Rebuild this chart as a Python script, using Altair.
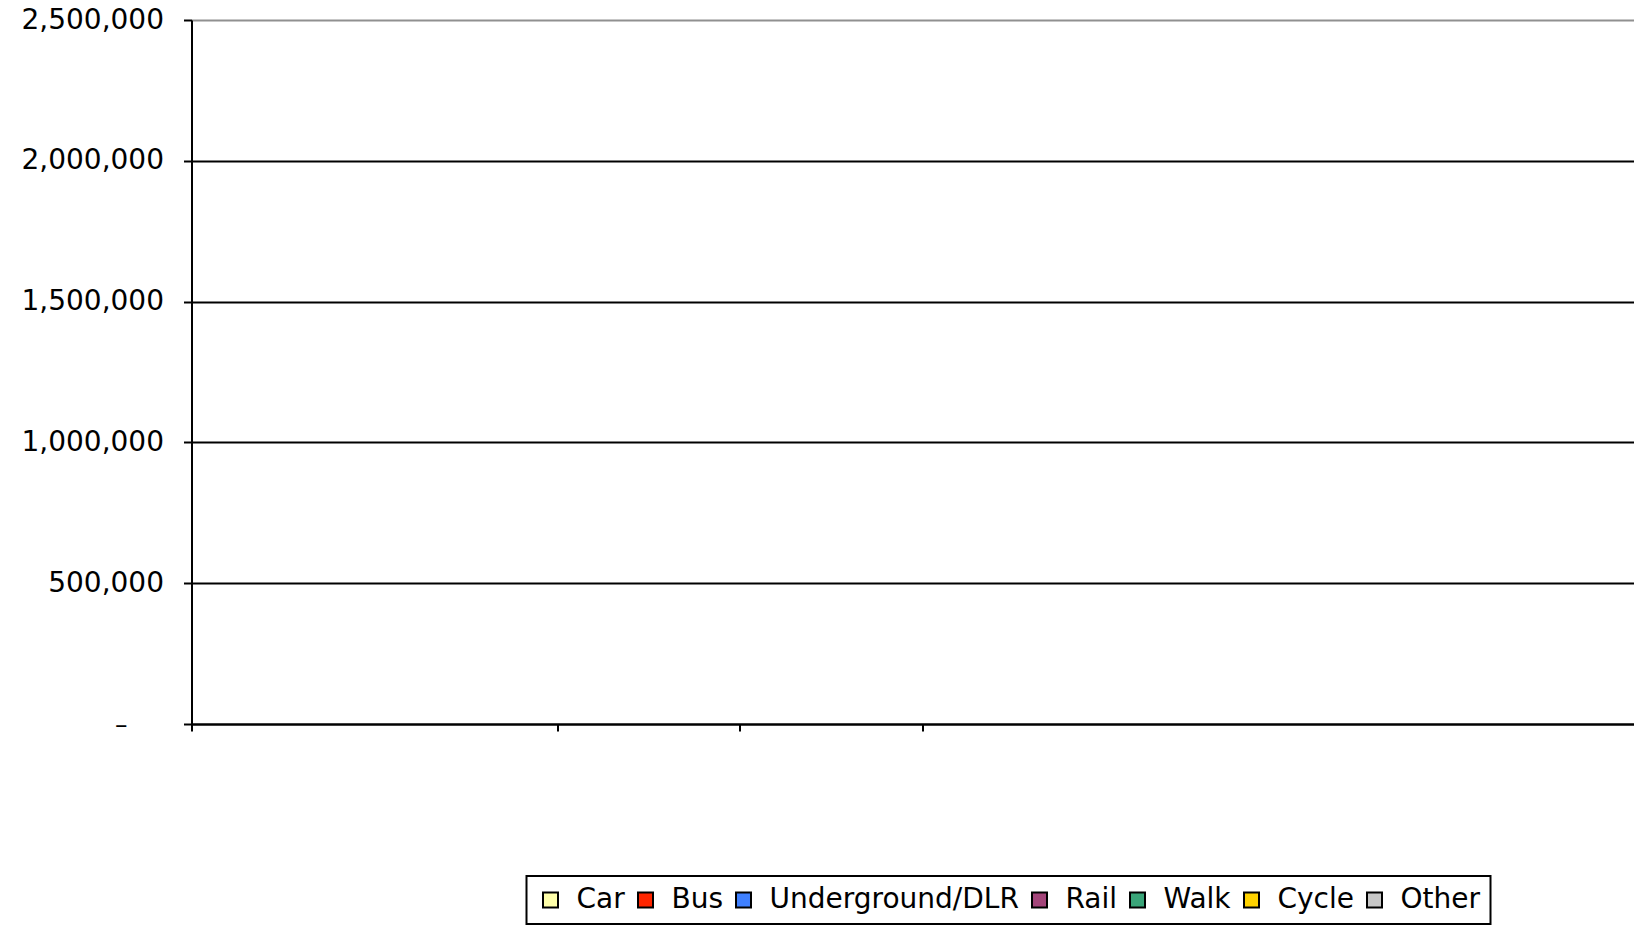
import altair as alt
import pandas as pd

# Legend categories (transport modes) and their colours
modes = ["Car", "Bus", "Underground/DLR", "Rail", "Walk", "Cycle", "Other"]
colors = ["#FFFFAA", "#FF2600", "#3F80FF", "#A4457A", "#3AA579", "#FFD200", "#C8C8C8"]
# Series values: the chart shows no bars (all empty)
values = [0, 0, 0, 0, 0, 0, 0]
slot = [1, 1, 1, 1, 1, 1, 1]

# Axis ticks
y_ticks = [0, 500000, 1000000, 1500000, 2000000, 2500000]
x_ticks = [0, 2, 3, 4]

df = pd.DataFrame({"mode": modes, "value": values, "slot": slot})

FONT = "DejaVu Sans"
BLANK = "\u2800"

chart = alt.Chart(df).mark_bar().encode(
    x=alt.X(
        "slot:Q",
        scale=alt.Scale(domain=[0, 7.89], nice=False, zero=True, padding=0),
        axis=alt.Axis(
            values=x_ticks,
            labels=False,
            grid=False,
            title=None,
            domainColor="black",
            domainWidth=2,
            tickColor="black",
            tickWidth=2,
            tickSize=7,
        ),
    ),
    y=alt.Y(
        "value:Q",
        stack=None,
        scale=alt.Scale(domain=[0, 2500000], nice=False),
        axis=alt.Axis(
            values=y_ticks,
            title=None,
            grid=True,
            gridColor=alt.condition("datum.value == 2500000", alt.value("#909090"), alt.value("black")),
            gridWidth=2,
            domainColor="black",
            domainWidth=2,
            tickColor="black",
            tickWidth=2,
            tickSize=8,
            labelPadding=20,
            labelFont=FONT,
            labelFontSize=alt.condition("datum.value == 0", alt.value(25), alt.value(28)),
            labelColor="black",
            labelExpr="datum.value == 0 ? '–" + BLANK * 2 + "' : format(datum.value, ',')",
        ),
    ),
    color=alt.Color(
        "mode:N",
        scale=alt.Scale(domain=modes, range=colors),
        sort=modes,
        legend=alt.Legend(
            title=None,
            orient="none",
            legendX=335,
            legendY=856,
            direction="horizontal",
            symbolType="square",
            symbolSize=225,
            symbolStrokeColor="black",
            symbolStrokeWidth=2,
            labelFont=FONT,
            labelFontSize=28,
            labelColor="black",
            labelLimit=500,
            labelOffset=12,
            columnPadding=6,
            padding=10,
            strokeColor="black",
        ),
    ),
).properties(
    width=1442,
    height=704,
    autosize=alt.AutoSizeParams(type="none"),
    padding={"left": 183.5, "top": 12, "right": 0, "bottom": 201},
).configure_view(
    stroke=None
).configure_legend(
    strokeWidth=2
)

chart.save("out.html", embed_options={"renderer": "svg", "actions": False})
